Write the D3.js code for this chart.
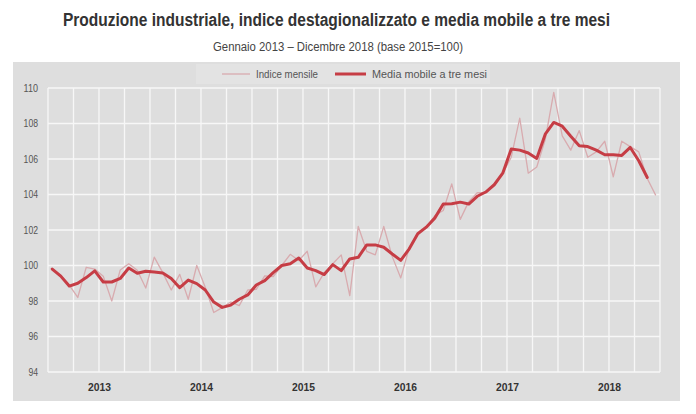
<!DOCTYPE html>
<html>
<head>
<meta charset="utf-8">
<script src="https://cdn.jsdelivr.net/npm/d3@7"></script>
<style>
  html, body { margin: 0; padding: 0; background: #ffffff; }
  svg { display: block; }
  text { font-family: "Liberation Sans", Arial, sans-serif; }
</style>
</head>
<body>
<svg id="chart" width="696" height="414"></svg>
<script>
// ---- data ----
const title = "Produzione industriale, indice destagionalizzato e media mobile a tre mesi";
const subtitle = "Gennaio 2013 \u2013 Dicembre 2018 (base 2015=100)";
const seriesNames = ["Indice mensile", "Media mobile a tre mesi"];
const years = ["2013", "2014", "2015", "2016", "2017", "2018"];
const yTicks = [94, 96, 98, 100, 102, 104, 106, 108, 110];

// Indice mensile, Jan 2013 .. Dec 2018 (72 months)
const monthly = [
  99.8, 99.45, 98.9, 98.2, 99.9, 99.8, 99.4, 98.0, 99.75, 100.1, 99.73, 98.73,
  100.47, 99.6, 98.62, 99.5, 98.1, 100.0, 98.78, 97.35, 97.63, 97.94, 97.74, 98.62,
  98.66, 99.42, 99.37, 100.0, 100.63, 100.28, 100.8, 98.8, 99.6, 100.1, 100.6, 98.3,
  102.2, 100.8, 100.6, 102.2, 100.5, 99.3, 101.0, 101.8, 102.1, 102.8, 103.1, 104.6,
  102.6, 103.6, 104.1, 104.1, 104.6, 105.2, 106.1, 108.3, 105.2, 105.55, 107.1, 109.75,
  107.3, 106.5, 107.6, 106.1, 106.4, 107.0, 105.0, 107.0, 106.7, 106.4, 104.9, 103.95
];

// Media mobile a tre mesi, Jan 2013 .. Nov 2018 (71 months)
const movingAvg = [
  99.8, 99.4, 98.84, 99.0, 99.32, 99.7, 99.07, 99.07, 99.27, 99.86, 99.56, 99.68,
  99.63, 99.58, 99.27, 98.75, 99.18, 98.98, 98.62, 97.94, 97.64, 97.77, 98.1, 98.34,
  98.9, 99.15, 99.6, 100.0, 100.1, 100.42, 99.86, 99.71, 99.49, 100.05, 99.71, 100.37,
  100.46, 101.16, 101.16, 101.03, 100.65, 100.29, 100.94, 101.79, 102.16, 102.67, 103.46, 103.48,
  103.57, 103.46, 103.9, 104.14, 104.55, 105.2, 106.56, 106.5, 106.34, 106.03, 107.4, 108.06,
  107.85, 107.28, 106.75, 106.7, 106.5, 106.24, 106.24, 106.2, 106.65, 105.9, 104.96
];

// ---- layout ----
const svg = d3.select("#chart");
const panel = { x: 13, y: 62, w: 667, h: 339 };
const plot = { left: 48, right: 660, top: 88, bottom: 372 };

const x = d3.scaleLinear().domain([-0.5, 71.5]).range([plot.left, plot.right]);
const y = d3.scaleLinear().domain([94, 110]).range([plot.bottom, plot.top]);

// Title & subtitle (narrow look via textLength)
svg.append("text")
  .attr("x", 336.5).attr("y", 26)
  .attr("text-anchor", "middle")
  .attr("font-size", 17.5).attr("font-weight", "bold")
  .attr("fill", "#333333")
  .attr("textLength", 547).attr("lengthAdjust", "spacingAndGlyphs")
  .text(title);

svg.append("text")
  .attr("x", 338).attr("y", 51)
  .attr("text-anchor", "middle")
  .attr("font-size", 12)
  .attr("fill", "#444444")
  .attr("textLength", 250).attr("lengthAdjust", "spacingAndGlyphs")
  .text(subtitle);

// grey panel
svg.append("rect")
  .attr("x", panel.x).attr("y", panel.y)
  .attr("width", panel.w).attr("height", panel.h)
  .attr("fill", "#dedede");

// gridlines
const gGrid = svg.append("g");
gGrid.selectAll("line.h").data(yTicks).join("line")
  .attr("class", "h")
  .attr("x1", plot.left).attr("x2", plot.right)
  .attr("y1", d => y(d)).attr("y2", d => y(d))
  .attr("stroke", "#f7f7f7").attr("stroke-width", 1.3);
const qTicks = d3.range(0, 25).map(k => -0.5 + 3 * k);
gGrid.selectAll("line.v").data(qTicks).join("line")
  .attr("class", "v")
  .attr("x1", d => x(d)).attr("x2", d => x(d))
  .attr("y1", plot.top).attr("y2", plot.bottom)
  .attr("stroke", "#f7f7f7").attr("stroke-width", 1.3);

// y axis labels
const yAxis = d3.axisLeft(y).tickValues(yTicks).tickSize(0).tickPadding(10);
const gy = svg.append("g").attr("transform", `translate(${plot.left},0)`).call(yAxis);
gy.select(".domain").remove();
gy.selectAll("text")
  .attr("font-size", 10.5)
  .attr("fill", "#555555")
  .attr("textLength", d => String(d).length * 4.8)
  .attr("lengthAdjust", "spacingAndGlyphs")
  .style("font-family", '"Liberation Sans", Arial, sans-serif');

// x axis year labels
const yearCenters = years.map((yr, i) => i * 12 + 5.5);
const xAxis = d3.axisBottom(x).tickValues(yearCenters)
  .tickFormat((d, i) => years[i]).tickSize(0).tickPadding(9);
const gx = svg.append("g").attr("transform", `translate(0,${plot.bottom + 2})`).call(xAxis);
gx.select(".domain").remove();
gx.selectAll("text")
  .attr("font-size", 11).attr("font-weight", "bold")
  .attr("fill", "#333333")
  .attr("textLength", 23).attr("lengthAdjust", "spacingAndGlyphs")
  .style("font-family", '"Liberation Sans", Arial, sans-serif');

// lines
const line = d3.line().x((d, i) => x(i)).y(d => y(d));
svg.append("path").datum(monthly)
  .attr("d", line)
  .attr("fill", "none")
  .attr("stroke", "#d8abaf").attr("stroke-width", 1.3)
  .attr("stroke-linejoin", "round");
svg.append("path").datum(movingAvg)
  .attr("d", line)
  .attr("fill", "none")
  .attr("stroke", "#c63d45").attr("stroke-width", 3)
  .attr("stroke-linejoin", "round").attr("stroke-linecap", "round");

// legend
const lg = svg.append("g");
lg.append("rect").attr("x", 196).attr("y", 64).attr("width", 294).attr("height", 20)
  .attr("fill", "#e3e3e3");
lg.append("line").attr("x1", 222).attr("x2", 250).attr("y1", 74).attr("y2", 74)
  .attr("stroke", "#d8abaf").attr("stroke-width", 1.3);
lg.append("text").attr("x", 256).attr("y", 77.5)
  .attr("font-size", 10).attr("fill", "#555555")
  .attr("textLength", 62).attr("lengthAdjust", "spacingAndGlyphs")
  .text(seriesNames[0]);
lg.append("line").attr("x1", 335).attr("x2", 366).attr("y1", 74).attr("y2", 74)
  .attr("stroke", "#c63d45").attr("stroke-width", 3);
lg.append("text").attr("x", 372).attr("y", 77.5)
  .attr("font-size", 10).attr("fill", "#555555")
  .attr("textLength", 115).attr("lengthAdjust", "spacingAndGlyphs")
  .text(seriesNames[1]);
</script>
</body>
</html>
